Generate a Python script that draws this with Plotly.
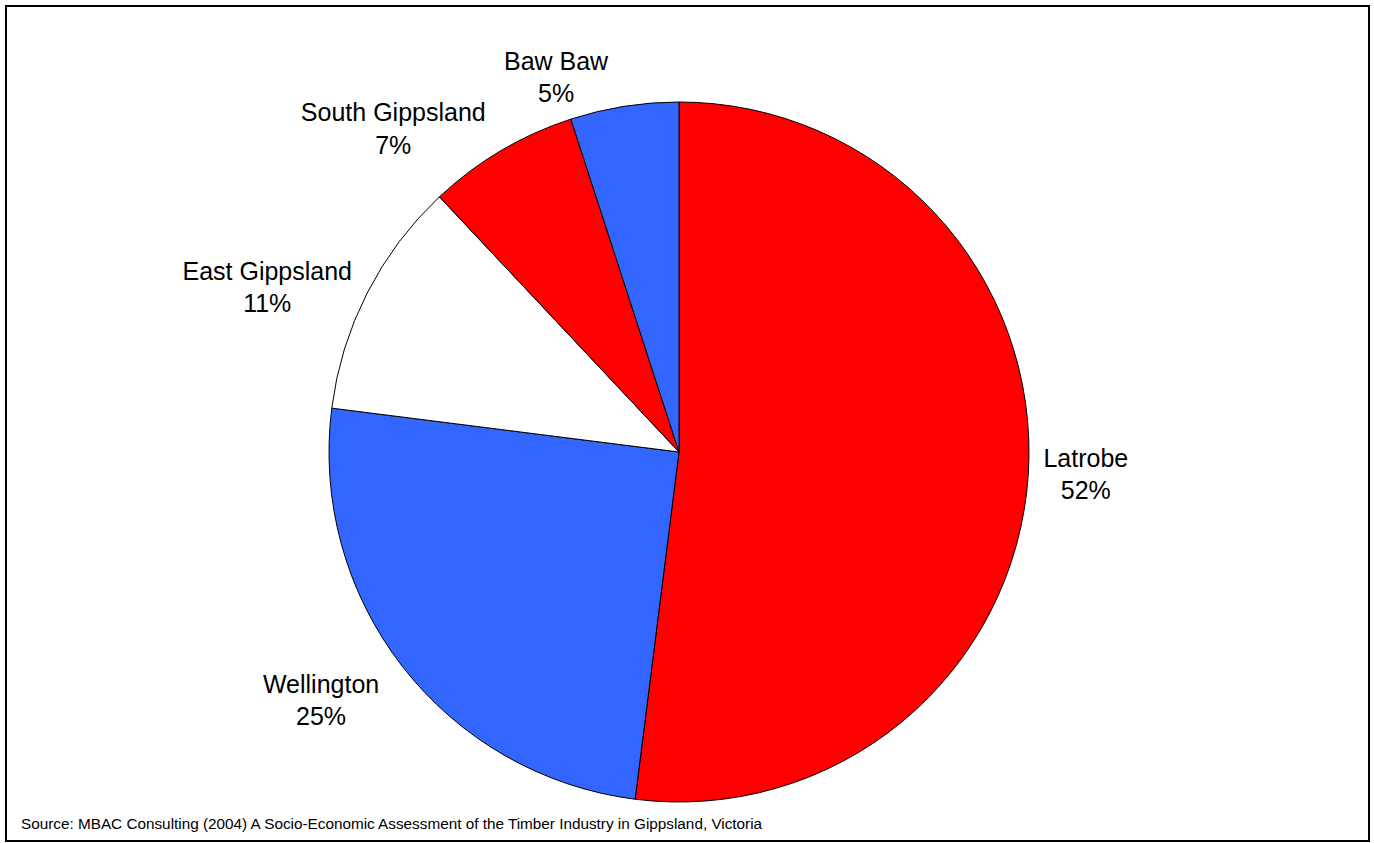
import plotly.graph_objects as go

regions = ["Latrobe", "Wellington", "East Gippsland", "South Gippsland", "Baw Baw"]
shares = [52, 25, 11, 7, 5]
colors = ["#FF0000", "#3366FF", "#FFFFFF", "#FF0000", "#3366FF"]
source = "Source: MBAC Consulting (2004) A Socio-Economic Assessment of the Timber Industry in Gippsland, Victoria"

W, H = 1374, 843
ML, MR, MT, MB = 329, 345, 102, 41
pw, ph = W - ML - MR, H - MT - MB
FONT = "Liberation Sans, Arial, sans-serif"

def px_x(p):
    return (p - ML) / pw

def px_y(p):
    return (H - MB - p) / ph

# label text; a blank leading line gives the lower-left label the same gap as the original
texts = [f"{r}<br>{v}%" for r, v in zip(regions, shares)]
texts[1] = "&nbsp;<br>" + texts[1]

common = dict(labels=regions, values=shares, sort=False, direction="clockwise",
              rotation=0, showlegend=False)

fig = go.Figure()
fig.add_trace(go.Pie(
    **common,
    marker=dict(colors=colors, line=dict(color="black", width=1)),
    textposition="none",
    hoverinfo="label+percent",
))
for i in range(len(regions)):
    fig.add_trace(go.Pie(
        **common,
        text=texts,
        marker=dict(colors=["rgba(0,0,0,0)"] * len(regions), line=dict(width=0)),
        textposition=["outside" if j == i else "none" for j in range(len(regions))],
        texttemplate="%{text}",
        textfont=dict(family=FONT, size=25, color="black"),
        hoverinfo="skip",
    ))

fig.update_layout(
    width=W, height=H,
    margin=dict(l=ML, r=MR, t=MT, b=MB),
    paper_bgcolor="white",
    plot_bgcolor="white",
    shapes=[dict(
        type="rect", xref="paper", yref="paper",
        x0=px_x(6), x1=px_x(1369), y0=px_y(841), y1=px_y(6),
        line=dict(color="black", width=2), fillcolor="rgba(0,0,0,0)",
    )],
    annotations=[dict(
        text=source,
        xref="paper", yref="paper", x=px_x(19), y=px_y(823),
        xanchor="left", yanchor="middle", showarrow=False,
        font=dict(family=FONT, size=15.3, color="black"),
    )],
)

fig.write_html("out.html")
